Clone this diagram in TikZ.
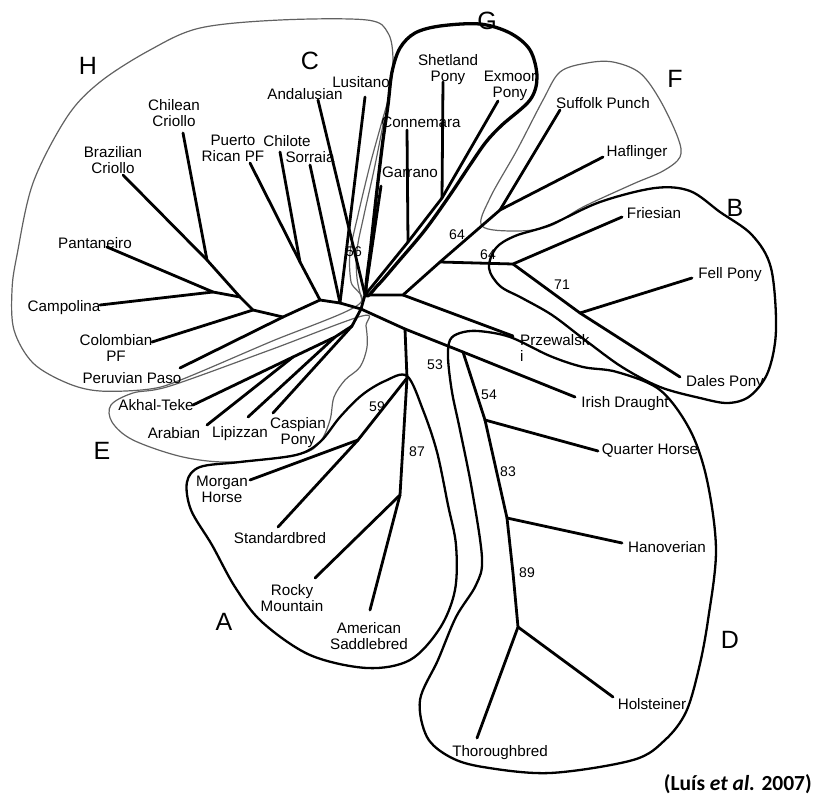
\documentclass[tikz,border=0pt]{standalone}
\usepackage{fontspec}
\setmainfont{Liberation Sans}
\newfontfamily\citefont{Carlito}
\begin{document}
\begin{tikzpicture}[x=1pt,y=-1pt,
  br/.style={line width=2.8pt, line cap=round, line join=round},
  thickout/.style={line width=2.3pt, line join=round},
  thinout/.style={line width=1.2pt, draw=black!62},
  lab/.style={font=\fontsize{15.2}{16}\selectfont, inner sep=0pt, align=center},
  boot/.style={font=\fontsize{14}{15}\selectfont, inner sep=0pt},
  grp/.style={font=\fontsize{25}{28}\selectfont, inner sep=0pt}]
\useasboundingbox (0,0) rectangle (814,796);

% ---------- outlines ----------
% H (thin)
\draw[thinout] plot[smooth cycle, tension=0.55] coordinates {
 (358,305) (270,342) (183,379) (150,389) (100,391) (67,383) (33,363) (14,330)
 (12,290) (17,255) (33,183) (67,117) (100,82) (150,50) (200,28) (280,20)
 (367,20) (388,33) (393,60) (389,95) (381,125) (370,165) (358,215) (350,253)
 (351,282)};
% C (thin)
\draw[thinout] plot[smooth, tension=0.6] coordinates {
 (383,125) (374,170) (364,215) (357,250) (357,278) (362,300)};
% E (thin)
\draw[thinout] plot[smooth cycle, tension=0.55] coordinates {
 (362,316) (270,350) (170,386) (133,393) (111,405) (112,422) (133,440)
 (183,457) (233,462) (300,454) (320,442) (330,420) (334,397) (345,380)
 (360,367) (367,347) (366,326)};
% F (thin)
\draw[thinout] plot[smooth cycle, tension=0.55] coordinates {
 (482,226) (490,198) (517,150) (543,100) (560,72) (587,63) (613,62) (640,73)
 (660,100) (678,138) (680,157) (663,171) (633,184) (583,207) (550,226) (517,231)};
% G (thick)
\draw[line width=3.3pt, line join=round] plot[smooth cycle, tension=0.55] coordinates {
 (366,294) (371,245) (377,190) (383,140) (388,105) (392,72) (400,48) (415,33)
 (440,26) (480,24) (510,33) (530,50) (537,77) (530,100) (502,125) (486,142)
 (470,165) (450,195) (425,230) (398,262) (378,285)};
% B (thick)
\draw[thickout] plot[smooth cycle, tension=0.55] coordinates {
 (489,268) (496,248) (515,236) (550,225) (600,202) (655,188) (690,191)
 (720,212) (752,235) (771,268) (776,330) (768,372) (750,396) (728,403)
 (700,398) (660,387) (622,367) (585,340) (552,315) (522,298) (500,286)};
% D (thick)
\draw[thickout] plot[smooth cycle, tension=0.55] coordinates {
 (448,358) (450,340) (460,333) (478,331) (510,337) (550,356) (583,367)
 (617,372) (660,390) (690,430) (707,480) (716,550) (708,620) (699,668)
 (686,712) (665,740) (633,760) (550,773) (483,767) (450,757) (427,737)
 (420,700) (438,660) (456,617) (476,585) (482,558) (472,490) (460,430)
 (452,392)};
% A (thick)
\draw[thickout] plot[smooth cycle, tension=0.55] coordinates {
 (407,376) (385,381) (362,395) (340,417) (320,442) (296,455) (240,462)
 (200,467) (187,482) (191,510) (212,545) (235,587) (262,622) (310,655)
 (367,668) (410,660) (440,628) (455,590) (456,545) (448,505) (437,452)
 (423,410)};

% ---------- tree coordinates ----------
\coordinate (hubT) at (365,295);
\coordinate (hubB) at (361,309);
\coordinate (nR) at (403,295);
\coordinate (nB0) at (440,262);
\coordinate (nF) at (500,210);
\coordinate (eSuf) at (560,110);
\coordinate (eHaf) at (603,157);
\coordinate (nB) at (513,264);
\coordinate (eFri) at (622,217);
\coordinate (nFe) at (580,313);
\coordinate (eFel) at (692,278);
\coordinate (eDal) at (680,377);
\coordinate (ePrz) at (513,336);
\coordinate (nA0) at (405,329);
\coordinate (nD0) at (463,352);
\coordinate (eIri) at (575,397);
\coordinate (nA1) at (407,378);
\coordinate (nM) at (358,440);
\coordinate (eMor) at (250,480);
\coordinate (eSta) at (278,527);
\coordinate (nR2) at (400,495);
\coordinate (eRoc) at (315,578);
\coordinate (eSad) at (370,610);
\coordinate (nQ) at (485,420);
\coordinate (eQua) at (598,451);
\coordinate (nHa) at (507,518);
\coordinate (nHb) at (513,573);
\coordinate (eHan) at (622,543);
\coordinate (nT) at (518,627);
\coordinate (eTho) at (477,738);
\coordinate (eHol) at (613,697);
\coordinate (n1) at (320,300);
\coordinate (nS) at (340,303);
\coordinate (nPC) at (300,262);
\coordinate (ePue) at (250,163);
\coordinate (eChe) at (280,152);
\coordinate (n2) at (283,317);
\coordinate (ePer) at (180,368);
\coordinate (n3) at (253,310);
\coordinate (eCol) at (152,342);
\coordinate (n4) at (240,297);
\coordinate (nBC) at (207,260);
\coordinate (eBra) at (123,175);
\coordinate (eChl) at (183,133);
\coordinate (nPCa) at (213,292);
\coordinate (ePan) at (107,247);
\coordinate (eCam) at (100,305);
\coordinate (eSor) at (310,165);
\coordinate (eAnd) at (318,100);
\coordinate (eLus) at (365,97);
\coordinate (eGar) at (381,186);
\coordinate (nCo) at (408,242);
\coordinate (nSh) at (442,198);
\coordinate (eExm) at (498,101);
\coordinate (eCon) at (407,130);
\coordinate (eShe) at (443,82);
\coordinate (nAA) at (293,357);
\coordinate (eAkh) at (193,405);
\coordinate (eAra) at (207,425);
\coordinate (nE1) at (335,337);
\coordinate (eLip) at (248,417);
\coordinate (nE2) at (352,326);
\coordinate (eCas) at (273,413);

% ---------- branches ----------
\draw[br] (hubT) -- (hubB);
\draw[br] (hubT) -- (nR) -- (nB0) -- (nF) -- (eSuf);
\draw[br] (nF) -- (eHaf);
\draw[br] (nB0) -- (nB) -- (eFri);
\draw[br] (nB) -- (nFe) -- (eDal);
\draw[br] (nFe) -- (eFel);
\draw[br] (nR) -- (ePrz);
\draw[br] (hubB) -- (nA0) -- (nD0) -- (eIri);
\draw[br] (nA0) -- (nA1) -- (nM) -- (eMor);
\draw[br] (nM) -- (eSta);
\draw[br] (nA1) -- (nR2) -- (eRoc);
\draw[br] (nR2) -- (eSad);
\draw[br] (nD0) -- (nQ) -- (eQua);
\draw[br] (nQ) -- (nHa) -- (eHan);
\draw[br] (nHa) -- (nHb) -- (nT) -- (eTho);
\draw[br] (nT) -- (eHol);
\draw[br] (hubB) -- (nS) -- (n1) -- (n2) -- (n3) -- (n4) -- (nBC) -- (eBra);
\draw[br] (nBC) -- (eChl);
\draw[br] (n4) -- (nPCa) -- (ePan);
\draw[br] (nPCa) -- (eCam);
\draw[br] (n3) -- (eCol);
\draw[br] (n2) -- (ePer);
\draw[br] (n1) -- (nPC) -- (ePue);
\draw[br] (nPC) -- (eChe);
\draw[br] (nS) -- (eSor);
\draw[br] (nS) -- (eLus);
\draw[br] (hubT) -- (eAnd);
\draw[br] (hubT) -- (eGar);
\draw[br] (hubT) -- (nCo) -- (nSh) -- (eExm);
\draw[br] (nCo) -- (eCon);
\draw[br] (nSh) -- (eShe);
\draw[br] (hubB) -- (nE2) -- (nE1) -- (nAA) -- (eAkh);
\draw[br] (nAA) -- (eAra);
\draw[br] (nE1) -- (eLip);
\draw[br] (nE2) -- (eCas);

% ---------- leaf labels ----------
\node[lab] (lLus) at (361,82) {Lusitano};
\node[lab] (lAnd) at (305,94) {Andalusian};
\node[lab] (lChl) at (174,113) {Chilean\\Criollo};
\node[lab] (lBra) at (113,160) {Brazilian\\Criollo};
\node[lab] (lPue) at (233,148) {Puerto\\Rican PF};
\node[lab] (lChe) at (287,141) {Chilote};
\node[lab] (lSor) at (310,157) {Sorraia};
\node[lab] (lPan) at (95,243) {Pantaneiro};
\node[lab] (lCam) at (64,308) {Campolina};
\node[lab] (lCol) at (116,348) {Colombian\\PF};
\node[lab] (lPer) at (132,378) {Peruvian Paso};
\node[lab] (lAkh) at (156,405) {Akhal-Teke};
\node[lab] (lAra) at (174,433) {Arabian};
\node[lab] (lLip) at (240,434) {Lipizzan};
\node[lab] (lCas) at (298,433) {Caspian\\Pony};
\node[lab] (lMor) at (222,489) {Morgan\\Horse};
\node[lab] (lSta) at (280,538) {Standardbred};
\node[lab] (lRoc) at (292,598) {Rocky\\Mountain};
\node[lab] (lSad) at (369,636) {American\\Saddlebred};
\node[lab] (lTho) at (500,753) {Thoroughbred};
\node[lab] (lHol) at (652,704) {Holsteiner};
\node[lab] (lHan) at (667,547) {Hanoverian};
\node[lab] (lQua) at (650,451) {Quarter Horse};
\node[lab] (lIri) at (625,404) {Irish Draught};
\node[lab, align=left, anchor=north west] (lPrz) at (520,334) {Przewalsk\\i};
\node[lab] (lDal) at (725,383) {Dales Pony};
\node[lab] (lFel) at (730,275) {Fell Pony};
\node[lab] (lFri) at (654,213) {Friesian};
\node[lab] (lHaf) at (637,153) {Haflinger};
\node[lab] (lSuf) at (603,103) {Suffolk Punch};
\node[lab] (lShe) at (448,70) {Shetland\\Pony};
\node[lab] (lExm) at (510,86) {Exmoor\\Pony};
\node[lab] (lCon) at (421,122) {Connemara};
\node[lab] (lGar) at (410,172) {Garrano};

% ---------- bootstrap values ----------
\node[boot] (b56) at (354,252) {56};
\node[boot] (b64a) at (457,235) {64};
\node[boot] (b64b) at (488,255) {64};
\node[boot] (b71) at (562,285) {71};
\node[boot] (b53) at (435,365) {53};
\node[boot] (b59) at (377,407) {59};
\node[boot] (b87) at (417,452) {87};
\node[boot] (b54) at (489,395) {54};
\node[boot] (b83) at (508,472) {83};
\node[boot] (b89) at (527,573) {89};

% ---------- group letters ----------
\node[grp] (gH) at (88,66) {H};
\node[grp] (gC) at (310,61) {C};
\node[grp] (gG) at (487,21) {G};
\node[grp] (gF) at (675,79) {F};
\node[grp] (gB) at (735,208) {B};
\node[grp] (gE) at (102,451) {E};
\node[grp] (gA) at (224,622) {A};
\node[grp] (gD) at (730,640) {D};

% ---------- citation ----------
\node[inner sep=0pt, font=\citefont\bfseries\fontsize{21.5}{23}\selectfont, anchor=east] (cite) at (812,784) {(Luís \textit{et al.} 2007)};
\end{tikzpicture}
\end{document}
